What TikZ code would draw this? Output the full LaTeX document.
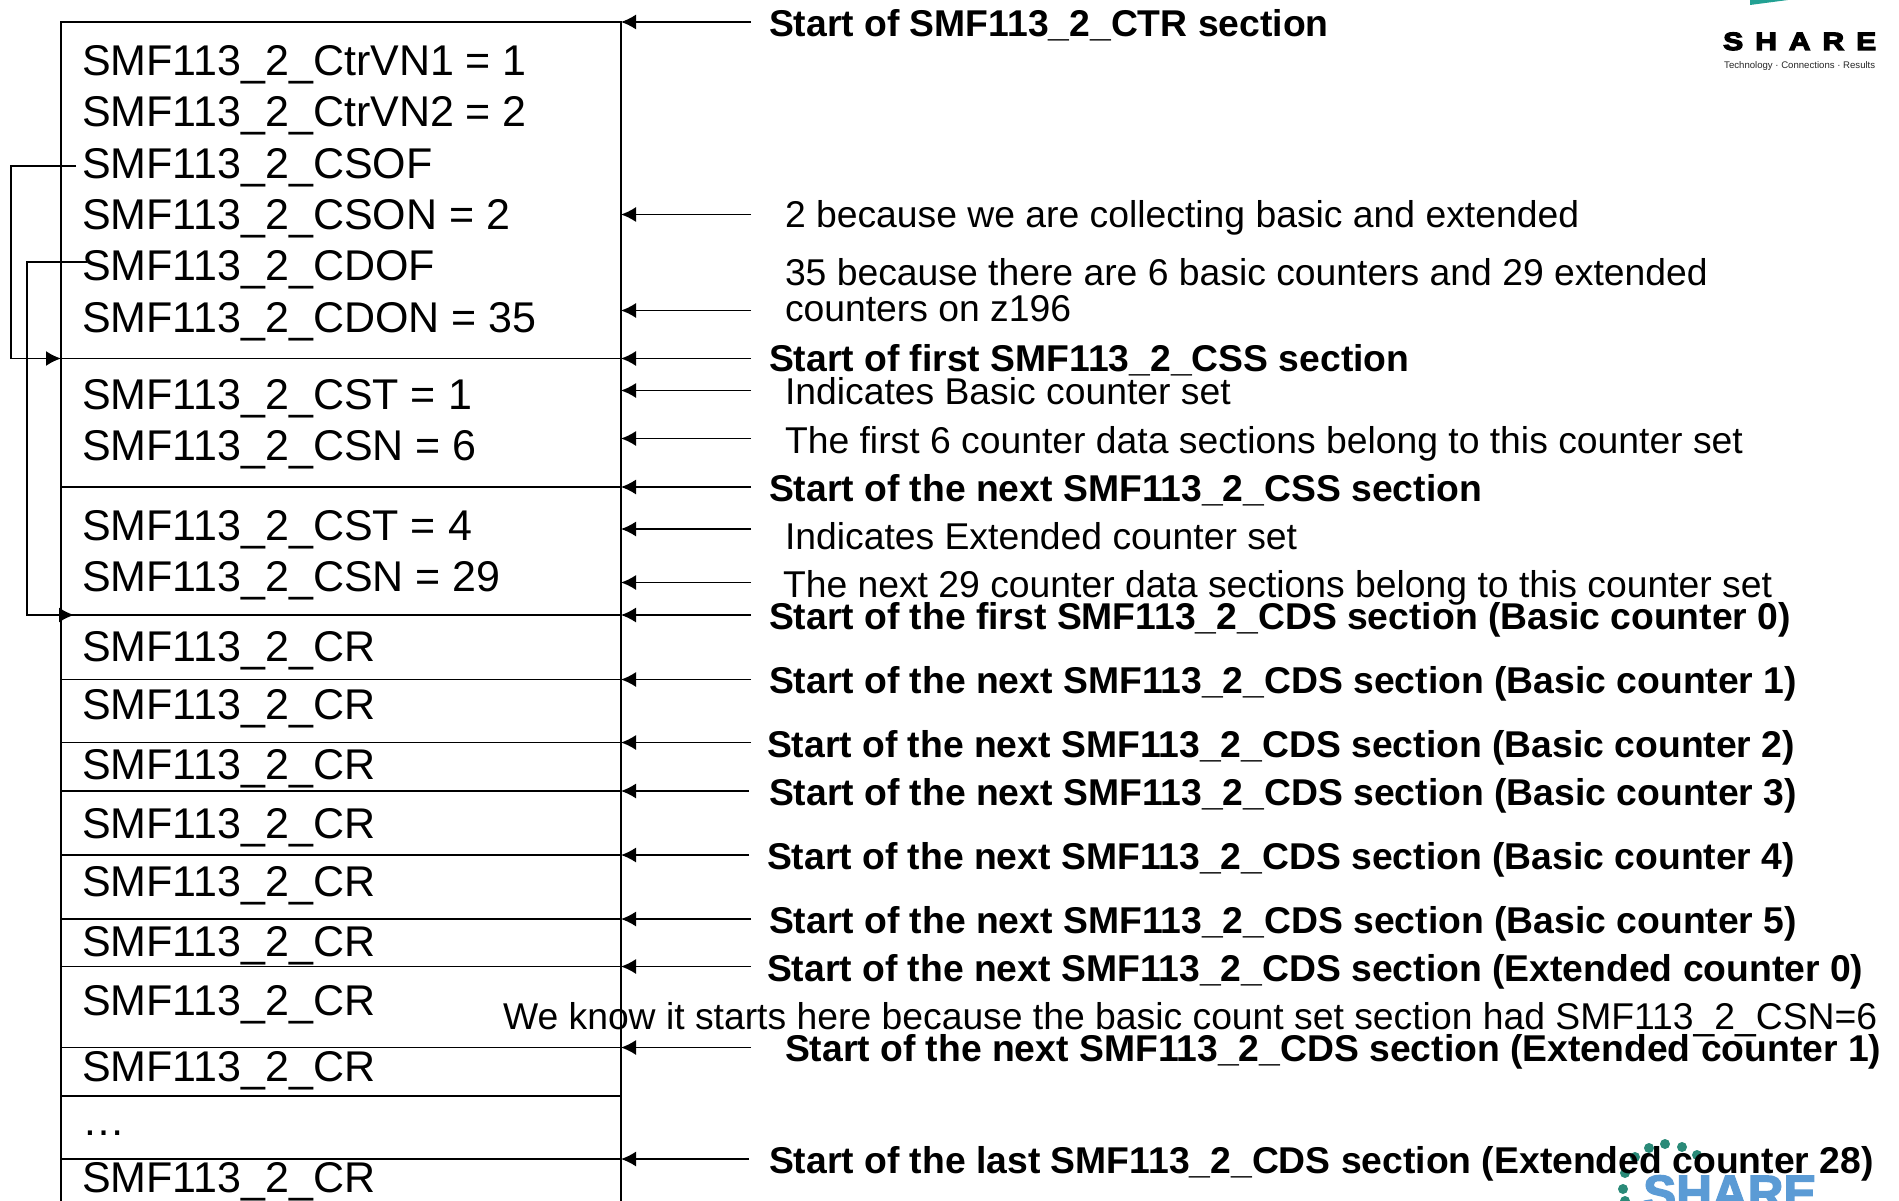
\documentclass[tikz,border=0pt]{standalone}
\usepackage{fontspec}
\setmainfont{Liberation Sans}
\newfontfamily\sharefont[FakeBold=3]{Liberation Sans Bold}
\newfontfamily\sharewide[FakeBold=5,FakeStretch=1.2]{Liberation Sans Bold}
\usepackage{xcolor}
\usetikzlibrary{arrows.meta}
\definecolor{shareblue}{HTML}{5B9BD5}
\definecolor{shareteal}{HTML}{2A8A78}

\tikzset{
  rowbox/.style={draw, rectangle, anchor=north west, minimum width=560pt, inner sep=0pt, outer sep=0pt, line width=1.8pt},
  field/.style={anchor=west, inner sep=0pt, outer sep=0pt, text height=30pt, text depth=0pt, font=\fontsize{43}{43}\selectfont},
  plainnote/.style={anchor=west, inner sep=0pt, outer sep=0pt, text height=26pt, text depth=0pt, font=\fontsize{37.3}{36}\selectfont},
  boldnote/.style={anchor=west, inner sep=0pt, outer sep=0pt, text height=26pt, text depth=0pt, font=\fontsize{37.3}{36}\selectfont\bfseries},
  pointer/.style={line width=1.5pt, -{Latex[length=15pt,width=15pt]}},
  link/.style={line width=1.8pt, -{Latex[length=15pt,width=15pt]}},
  sharedot/.style={circle, fill=shareteal, inner sep=0pt, minimum size=10pt}
}

\begin{document}
\begin{tikzpicture}[x=1pt, y=-1pt]
\useasboundingbox (0,0) rectangle (1899,1201);

% Logos
\fill[shareteal!80!cyan] (1750,0) -- (1788,0) -- (1750,5) -- cycle;
\node[inner sep=0pt, anchor=base west, font=\sharewide\fontsize{25}{25}\selectfont\addfontfeature{LetterSpace=48}] (toplogo) at (1723,50) {SHARE};
\node[inner sep=0pt, anchor=base west, text=black!85, font=\fontsize{9.6}{10}\selectfont] (tagline) at (1724,69) {Technology · Connections · Results};
\node[inner sep=0pt, anchor=base west, text=shareblue, font=\sharefont\fontsize{49.5}{50}\selectfont] (botlogo) at (1643,1210) {SHARE};
\node[sharedot] (d1) at (1649,1148) {};
\node[sharedot] (d2) at (1665,1144) {};
\node[sharedot] (d3) at (1682,1147) {};
\node[sharedot] (d4) at (1697,1155) {};
\node[sharedot] (d5) at (1635,1157) {};
\node[sharedot] (d6) at (1625,1173) {};
\node[sharedot] (d7) at (1623,1189) {};
\node[sharedot] (d8) at (1625,1201) {};

% Record sections
\node[rowbox, minimum height=336.5pt] (ctr) at (61,22) {};
\node[rowbox, minimum height=128.5pt] (cssa) at (61,358.5) {};
\node[rowbox, minimum height=128pt] (cssb) at (61,487) {};
\node[rowbox, minimum height=64.5pt] (cra) at (61,615) {};
\node[rowbox, minimum height=63pt] (crb) at (61,679.5) {};
\node[rowbox, minimum height=48.5pt] (crc) at (61,742.5) {};
\node[rowbox, minimum height=64pt] (crd) at (61,791) {};
\node[rowbox, minimum height=64pt] (cre) at (61,855) {};
\node[rowbox, minimum height=47.5pt] (crf) at (61,919) {};
\node[rowbox, minimum height=81pt] (crg) at (61,966.5) {};
\node[rowbox, minimum height=48.5pt] (crh) at (61,1047.5) {};
\node[rowbox, minimum height=63pt] (dotsrow) at (61,1096) {};
\node[rowbox, minimum height=60pt] (crlast) at (61,1159) {};

% Field names
\node[field] (vna) at (82,60.5) {SMF113\_2\_CtrVN1 = 1};
\node[field] (vnb) at (82,111.5) {SMF113\_2\_CtrVN2 = 2};
\node[field] (csof) at (82,163.5) {SMF113\_2\_CSOF};
\node[field] (cson) at (82,214.5) {SMF113\_2\_CSON = 2};
\node[field] (cdof) at (82,265) {SMF113\_2\_CDOF};
\node[field] (cdon) at (82,317.5) {SMF113\_2\_CDON = 35};
\node[field] (csta) at (82,394) {SMF113\_2\_CST = 1};
\node[field] (csna) at (82,445) {SMF113\_2\_CSN = 6};
\node[field] (cstb) at (82,525.5) {SMF113\_2\_CST = 4};
\node[field] (csnb) at (82,576) {SMF113\_2\_CSN = 29};
\node[field] (ta) at (82,646) {SMF113\_2\_CR};
\node[field] (tb) at (82,704) {SMF113\_2\_CR};
\node[field] (tc) at (82,764) {SMF113\_2\_CR};
\node[field] (td) at (82,823.5) {SMF113\_2\_CR};
\node[field] (te) at (82,881.5) {SMF113\_2\_CR};
\node[field] (tf) at (82,941) {SMF113\_2\_CR};
\node[field] (tg) at (82,1000) {SMF113\_2\_CR};
\node[field] (th) at (82,1066) {SMF113\_2\_CR};
\node[field] (tdots) at (82,1120) {…};
\node[field] (tlast) at (82,1177) {SMF113\_2\_CR};

% Offset links
\draw[link, shorten <=6pt] ([yshift=-2.5pt]csof.west) -- ++(-71,0) |- (cssa.north west);
\draw[link, shorten <=-5pt] ([yshift=3pt]cdof.west) -- ++(-55,0) |- ([xshift=13pt]cra.north west);

% Notes
\node[boldnote] (n1) at (769,24) {Start of SMF113\_2\_CTR section};
\node[plainnote] (n2) at (785,214.5) {2 because we are collecting basic and extended};
\node[plainnote, align=left] (n3) at (785,308.5) {35 because there are 6 basic counters and 29 extended\\counters on z196};
\node[boldnote] (n4) at (769,358.5) {Start of first SMF113\_2\_CSS section};
\node[plainnote] (n5) at (785,391.5) {Indicates Basic counter set};
\node[plainnote] (n6) at (785,440) {The first 6 counter data sections belong to this counter set};
\node[boldnote] (n7) at (769,488.5) {Start of the next SMF113\_2\_CSS section};
\node[plainnote] (n8) at (785,536) {Indicates Extended counter set};
\node[plainnote] (n9) at (783,584.5) {The next 29 counter data sections belong to this counter set};
\node[boldnote] (n10) at (769,616) {Start of the first SMF113\_2\_CDS section (Basic counter 0)};
\node[boldnote] (n11) at (769,680) {Start of the next SMF113\_2\_CDS section (Basic counter 1)};
\node[boldnote] (n12) at (767,744) {Start of the next SMF113\_2\_CDS section (Basic counter 2)};
\node[boldnote] (n13) at (769,792.5) {Start of the next SMF113\_2\_CDS section (Basic counter 3)};
\node[boldnote] (n14) at (767,856) {Start of the next SMF113\_2\_CDS section (Basic counter 4)};
\node[boldnote] (n15) at (769,920.5) {Start of the next SMF113\_2\_CDS section (Basic counter 5)};
\node[boldnote] (n16) at (767,968) {Start of the next SMF113\_2\_CDS section (Extended counter 0)};
\node[plainnote] (n17) at (503,1016) {We know it starts here because the basic count set section had SMF113\_2\_CSN=6};
\node[boldnote] (n18) at (785,1048.5) {Start of the next SMF113\_2\_CDS section (Extended counter 1)};
\node[boldnote] (n19) at (769,1160) {Start of the last SMF113\_2\_CDS section (Extended counter 28)};

% Pointer tails
\coordinate (p1) at (751,22);
\coordinate (p2) at (751,214.5);
\coordinate (p3) at (751,310.5);
\coordinate (p4) at (751,358.5);
\coordinate (p5) at (751,390.5);
\coordinate (p6) at (751,438.5);
\coordinate (p7) at (751,487);
\coordinate (p8) at (751,529);
\coordinate (p9) at (751,582.5);
\coordinate (p10) at (751,615);
\coordinate (p11) at (751,679.5);
\coordinate (p12) at (751,742.5);
\coordinate (p13) at (749,791);
\coordinate (p14) at (749,855);
\coordinate (p15) at (751,919);
\coordinate (p16) at (751,966.5);
\coordinate (p17) at (751,1047.5);
\coordinate (p18) at (749,1159);

% Pointers
\draw[pointer] (p1) -- (ctr.north east);
\draw[pointer] (p2) -- (p2 -| ctr.east);
\draw[pointer] (p3) -- (p3 -| ctr.east);
\draw[pointer] (p4) -- (cssa.north east);
\draw[pointer] (p5) -- (p5 -| cssa.east);
\draw[pointer] (p6) -- (p6 -| cssa.east);
\draw[pointer] (p7) -- (cssb.north east);
\draw[pointer] (p8) -- (p8 -| cssb.east);
\draw[pointer] (p9) -- (p9 -| cssb.east);
\draw[pointer] (p10) -- (cra.north east);
\draw[pointer] (p11) -- (crb.north east);
\draw[pointer] (p12) -- (crc.north east);
\draw[pointer] (p13) -- (crd.north east);
\draw[pointer] (p14) -- (cre.north east);
\draw[pointer] (p15) -- (crf.north east);
\draw[pointer] (p16) -- (crg.north east);
\draw[pointer] (p17) -- (crh.north east);
\draw[pointer] (p18) -- (crlast.north east);

\end{tikzpicture}
\end{document}
